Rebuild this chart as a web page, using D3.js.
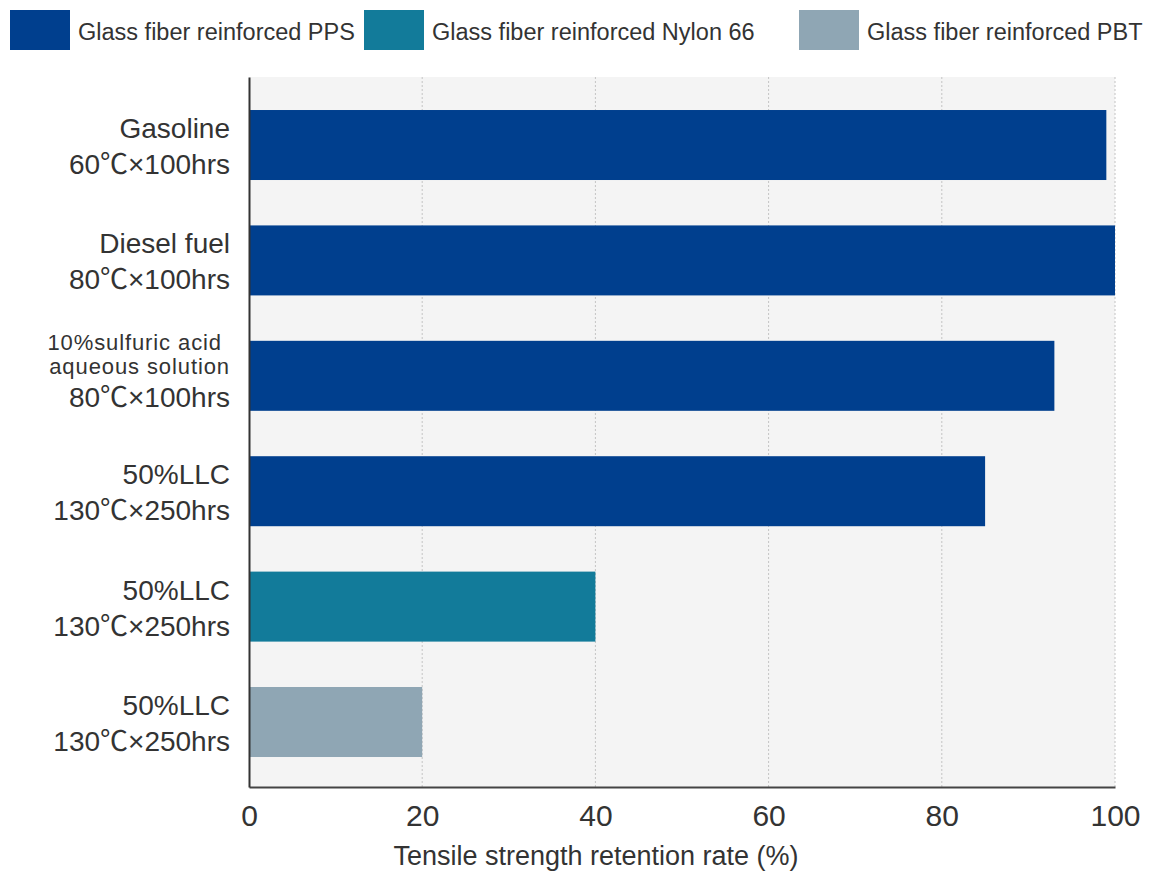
<!DOCTYPE html>
<html>
<head>
<meta charset="utf-8">
<script src="https://cdn.jsdelivr.net/npm/d3@7"></script>
<style>
  html, body { margin: 0; padding: 0; background: #fff; }
  svg { display: block; }
  text { font-family: "Liberation Sans", Arial, "Noto Sans CJK JP", sans-serif; fill: #333; }
</style>
</head>
<body>
<svg id="chart" width="1160" height="880"></svg>
<script>
// ---- data ----
const seriesNames = ["Glass fiber reinforced PPS", "Glass fiber reinforced Nylon 66", "Glass fiber reinforced PBT"];
const seriesColors = ["#003f8e", "#127b9a", "#8fa6b4"];
const categoryLines = [
  ["Gasoline", "60℃×100hrs"],
  ["Diesel fuel", "80℃×100hrs"],
  ["10%sulfuric acid", "aqueous solution", "80℃×100hrs"],
  ["50%LLC", "130℃×250hrs"],
  ["50%LLC", "130℃×250hrs"],
  ["50%LLC", "130℃×250hrs"]
];
const values = [99, 100, 93, 85, 40, 20];
const barSeries = [0, 0, 0, 0, 1, 2];
const xTicks = [0, 20, 40, 60, 80, 100];
const xTitle = "Tensile strength retention rate (%)";

// ---- layout ----
const svg = d3.select("#chart");
const pLeft = 249, pRight = 1115, pTop = 77, pBottom = 787;

const x = d3.scaleLinear().domain([0, 100]).range([pLeft, pRight]);
const y = d3.scaleBand().domain(d3.range(values.length)).range([pTop, pBottom])
  .paddingInner(0.3934).paddingOuter(0.273).align(0.524);

// background
svg.append("rect").attr("x", pLeft).attr("y", pTop)
  .attr("width", pRight - pLeft).attr("height", pBottom - pTop).attr("fill", "#f4f4f4");

// grid lines
svg.append("g").selectAll("line").data(xTicks.filter(d => d > 0)).join("line")
  .attr("x1", d => x(d)).attr("x2", d => x(d))
  .attr("y1", pTop).attr("y2", pBottom)
  .attr("stroke", "#c4c4c4").attr("stroke-width", 1).attr("stroke-dasharray", "2,2");

// bars
svg.append("g").selectAll("rect").data(values).join("rect")
  .attr("x", x(0))
  .attr("y", (d, i) => y(i))
  .attr("width", d => x(d) - x(0))
  .attr("height", y.bandwidth())
  .attr("fill", (d, i) => seriesColors[barSeries[i]]);

// x axis
const xAxis = d3.axisBottom(x).tickValues(xTicks).tickSize(0).tickSizeOuter(0).tickPadding(0);
const gx = svg.append("g").attr("transform", `translate(0,${pBottom})`).call(xAxis);
gx.select(".domain").attr("stroke", "#444").attr("stroke-width", 2);
gx.selectAll(".tick text").attr("font-size", 30).attr("dy", null).attr("y", 39)
  .attr("fill", "#333").attr("font-family", "Liberation Sans, Arial, sans-serif");

// y axis line
const yAxis = d3.axisLeft(y).tickSize(0).tickSizeOuter(0).tickFormat("");
const gy = svg.append("g").attr("transform", `translate(${pLeft},0)`).call(yAxis);
gy.select(".domain").attr("stroke", "#333").attr("stroke-width", 2);

// y labels
const labelX = 230;
categoryLines.forEach((lines, i) => {
  const c = y(i) + y.bandwidth() / 2;
  const t = svg.append("text").attr("text-anchor", "end");
  if (lines.length === 2) {
    t.append("tspan").attr("x", labelX).attr("y", c - 7).attr("font-size", 28).text(lines[0]);
    t.append("tspan").attr("x", labelX).attr("y", c + 29).attr("font-size", 28).text(lines[1]);
  } else {
    t.append("tspan").attr("x", labelX - 8).attr("y", c - 26).attr("font-size", 22)
      .attr("letter-spacing", 0.9).text(lines[0]);
    t.append("tspan").attr("x", labelX).attr("y", c - 2).attr("font-size", 22)
      .attr("letter-spacing", 0.9).text(lines[1]);
    t.append("tspan").attr("x", labelX).attr("y", c + 31).attr("font-size", 28).text(lines[2]);
  }
});

// x title
svg.append("text").attr("x", 596).attr("y", 865).attr("text-anchor", "middle")
  .attr("font-size", 27).text(xTitle);

// legend
const legendX = [10, 364, 799];
const lg = svg.append("g").selectAll("g").data(seriesNames).join("g")
  .attr("transform", (d, i) => `translate(${legendX[i]},10)`);
lg.append("rect").attr("width", 60).attr("height", 40).attr("fill", (d, i) => seriesColors[i]);
lg.append("text").attr("x", 68).attr("y", 30).attr("font-size", 23.5).text(d => d);
</script>
</body>
</html>
